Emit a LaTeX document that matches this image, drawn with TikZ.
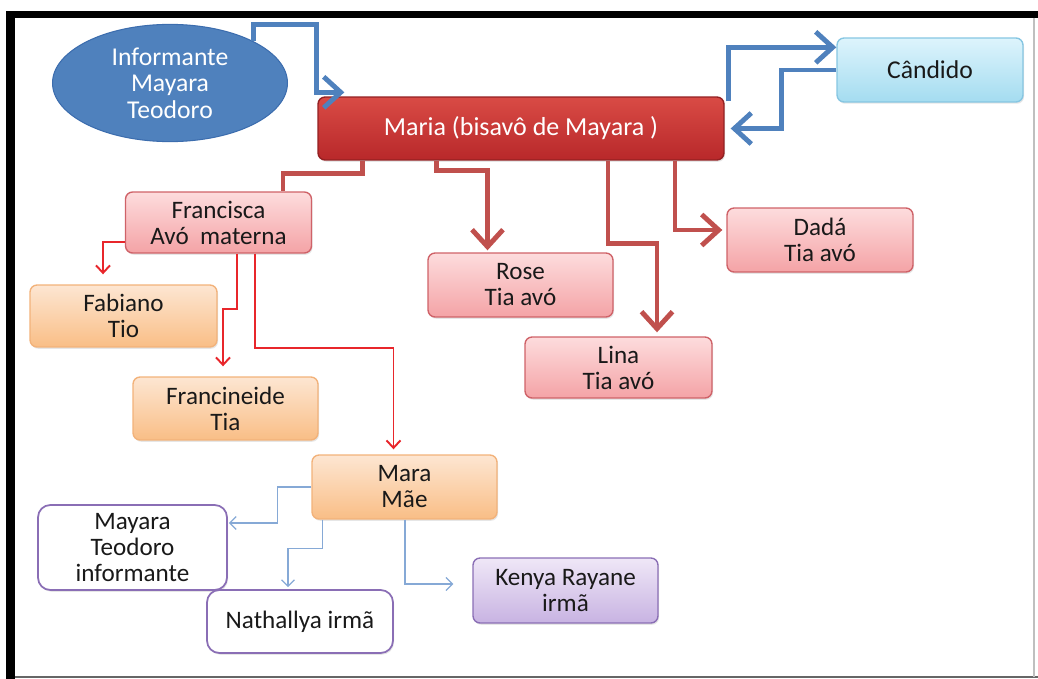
\documentclass[tikz,border=0pt]{standalone}
\usepackage{fontspec}
\setmainfont{Carlito}
\usepackage{xcolor}
\usepackage{tikz}
\usetikzlibrary{calc,arrows.meta,shapes.geometric,shadows}

\definecolor{azulF}{HTML}{4F81BD}
\definecolor{azulE}{HTML}{3C6DAE}
\definecolor{azulC}{HTML}{86A9D6}
\definecolor{vermF}{HTML}{C0504D}
\definecolor{vermC}{HTML}{E8262B}
\definecolor{mariaA}{HTML}{D94B45}
\definecolor{mariaB}{HTML}{B8282A}
\definecolor{roseA}{HTML}{FDDCDD}
\definecolor{roseB}{HTML}{F4A3A6}
\definecolor{roseD}{HTML}{CF6268}
\definecolor{laranjaA}{HTML}{FDE6D2}
\definecolor{laranjaB}{HTML}{F9BE86}
\definecolor{laranjaD}{HTML}{F2B27A}
\definecolor{cianoA}{HTML}{DDF4FC}
\definecolor{cianoB}{HTML}{A4DCF0}
\definecolor{cianoD}{HTML}{86C6E2}
\definecolor{lilasA}{HTML}{EFE7F7}
\definecolor{lilasB}{HTML}{C8B3E2}
\definecolor{lilasD}{HTML}{8A6EB5}

\begin{document}
\begin{tikzpicture}[x=0.02cm,y=-0.02cm,
	caixa/.style={rectangle,rounded corners=4pt,line width=0.8pt,align=center,
		font=\fontsize{14.3}{14.8}\selectfont,text=black!90,
		drop shadow={shadow xshift=0.6pt,shadow yshift=-1pt,opacity=0.2}},
	caixarosa/.style={caixa,draw=roseD,top color=roseA,bottom color=roseB,minimum width=3.72cm,minimum height=1.26cm},
	caixalaranja/.style={caixa,draw=laranjaD,top color=laranjaA,bottom color=laranjaB,minimum width=3.72cm,minimum height=1.26cm},
	caixabranca/.style={caixa,draw=lilasD,fill=white,rounded corners=7pt,line width=1pt,minimum width=3.72cm,minimum height=1.26cm},
	grossovermelho/.style={line width=2.8pt,draw=vermF,-{Straight Barb[length=3.4mm,width=6.2mm]}},
	grossoazul/.style={line width=2.8pt,draw=azulF,-{Straight Barb[length=3.4mm,width=6.2mm]}},
	finovermelho/.style={line width=1.1pt,draw=vermC,-{Straight Barb[length=1.5mm,width=2.8mm]}},
	finoazul/.style={line width=0.7pt,draw=azulC,-{Straight Barb[length=1.3mm,width=2.6mm]}}]
	\useasboundingbox (0,0) rectangle (1038,679);
	\fill[black] (6,11) rectangle (1038,18);
	\fill[black] (6,11) rectangle (15,679);
	\draw[black!60,line width=1.2pt] (15,677)--(1038,677);
	\draw[black!25,line width=0.8pt] (1034,18)--(1034,677);

	\node[ellipse,fill=azulF,draw=azulE,line width=0.6pt,minimum width=4.7cm,minimum height=2cm,
		align=center,text=white,font=\fontsize{14.6}{15.2}\selectfont] (info) at (170,83) {Informante\\Mayara\\Teodoro};
	\node[caixa,draw=mariaB!80!black,top color=mariaA,bottom color=mariaB,text=white,font=\fontsize{14.8}{15}\selectfont,
		minimum width=8.12cm,minimum height=1.26cm] (maria) at (521,128.5) {Maria (bisavô de Mayara )};
	\node[caixa,draw=cianoD,top color=cianoA,bottom color=cianoB,font=\fontsize{14.6}{15}\selectfont,
		minimum width=3.72cm,minimum height=1.28cm] (candido) at (930,70) {Cândido};
	\node[caixarosa,minimum height=1.22cm] (francisca) at (218.5,222.5) {Francisca\\Avó\ \ materna};
	\node[caixarosa,minimum width=3.7cm,minimum height=1.28cm] (rose) at (520.5,285) {Rose\\Tia avó};
	\node[caixarosa,minimum width=3.74cm,minimum height=1.22cm] (lina) at (618.5,367.5) {Lina\\Tia avó};
	\node[caixarosa,minimum height=1.28cm] (dada) at (820,240) {Dadá\\Tia avó};
	\node[caixalaranja,minimum width=3.74cm,minimum height=1.24cm] (fabiano) at (123.5,316) {Fabiano\\Tio};
	\node[caixalaranja,minimum width=3.7cm] (francineide) at (225.5,408.5) {Francineide\\Tia};
	\node[caixalaranja,minimum width=3.7cm,minimum height=1.28cm] (mara) at (404.5,487) {Mara\\Mãe};
	\node[caixabranca,minimum width=3.78cm,minimum height=1.7cm] (mayara) at (132.5,547.5) {Mayara\\Teodoro\\informante};
	\node[caixabranca] (nathallya) at (300,621.5) {Nathallya irmã};
	\node[caixa,draw=lilasD,top color=lilasA,bottom color=lilasB,minimum width=3.7cm,minimum height=1.3cm] (kenya) at (565.5,590.5) {Kenya Rayane\\irmã};

	\coordinate (pontaM) at ($(maria.north west)+(27,-4)$);
	\draw[grossoazul] (info.north east) |- ($(pontaM)+(-28,-68)$) |- (pontaM);
	\draw[grossoazul] ($(maria.north east)+(4,5)$) |- ($(candido.north west)+(0,10)$);
	\draw[grossoazul] (candido.west) -- ++(-55,0) |- ($(maria.east)+(6,0)$);

	\draw[line width=2.8pt,draw=vermF] ($(maria.south west)+(45,0)$) -- ++(0,13) -| ($(francisca.north)+(64.5,0)$);
	\draw[grossovermelho] ($(maria.south west)+(119,0)$) -- ++(0,10) -| ($(rose.north)+(-33,-2)$);
	\draw[grossovermelho] ($(maria.south)+(87,0)$) -- ++(0,83) -| ($(lina.north)+(38.5,-4)$);
	\draw[grossovermelho] ($(maria.south)+(154,0)$) |- ($(dada.west)+(-4,-10)$);

	\draw[finovermelho] ($(francisca.west)+(0,19.5)$) -| ($(fabiano.north)+(-20.5,-10)$);
	\draw[finovermelho] ($(francisca.south)+(18.5,0)$) -- ++(0,55) -| ($(francineide.north)+(-2.5,-10)$);
	\draw[finovermelho] ($(francisca.south)+(36.5,0)$) -- ++(0,94) -| ($(mara.north)+(-11,-5)$);

	\draw[finoazul] (mara.west) -- ++(-34,0) |- ($(mayara.east)+(1,-24.5)$);
	\draw[finoazul] ($(mara.south west)+(11,0)$) -- ++(0,29) -| ($(nathallya.north)+(-12,-2)$);
	\draw[finoazul] ($(mara.south)+(0.5,0)$) |- ($(kenya.west)+(-19,-6.5)$);
\end{tikzpicture}
\end{document}
